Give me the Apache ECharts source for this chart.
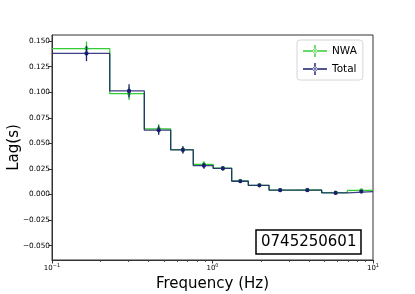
<!DOCTYPE html>
<html><head><meta charset="utf-8">
<script src="https://cdn.jsdelivr.net/npm/echarts@6/dist/echarts.min.js"></script>
<style>html,body{margin:0;padding:0;background:#fff}#c{width:415px;height:294px}</style>
</head><body><div id="c"></div>
<script>
const binEdges = [0.1, 0.229, 0.376, 0.549, 0.759, 1.01, 1.317, 1.671, 2.25, 3.02, 4.79, 6.92, 10];
const binCenters = [0.164, 0.302, 0.462, 0.654, 0.884, 1.16, 1.49, 1.96, 2.64, 3.90, 5.85, 8.46];
const nwaLag = [0.1426, 0.0987, 0.0642, 0.0440, 0.0295, 0.0258, 0.0134, 0.0090, 0.0044, 0.0045, 0.0018, 0.0040];
const nwaErr = [0.0070, 0.0062, 0.0045, 0.0035, 0.0030, 0.0020, 0.0015, 0.0012, 0.0012, 0.0012, 0.0012, 0.0015];
const totalLag = [0.1380, 0.1013, 0.0629, 0.0436, 0.0282, 0.0255, 0.0130, 0.0090, 0.0043, 0.0043, 0.0016, 0.0029];
const totalErr = [0.0075, 0.0065, 0.0045, 0.0035, 0.0030, 0.0020, 0.0015, 0.0012, 0.0012, 0.0012, 0.0012, 0.0015];
const yTicks = [-0.05, -0.025, 0, 0.025, 0.05, 0.075, 0.1, 0.125, 0.15];
const xMinorTicks = [0.2, 0.3, 0.4, 0.5, 0.6, 0.7, 0.8, 0.9, 2, 3, 4, 5, 6, 7, 8, 9];
const seriesNames = ['NWA', 'Total'];
const obsId = '0745250601';

const GREEN = '#32cd32';
const NAVY = '#1c1c72';
const seriesColors = [GREEN, NAVY];
const FONT = 'DejaVu Sans';

function stepData(vals) {
  const out = [];
  for (let i = 0; i < vals.length; i++) {
    out.push([binEdges[i], vals[i]]);
    out.push([binEdges[i + 1], vals[i]]);
  }
  return out;
}
function errData(vals, errs) {
  return vals.map((v, i) => [binCenters[i], v, errs[i]]);
}
function errRender(color) {
  return function (params, api) {
    const x = api.value(0), y = api.value(1), e = api.value(2);
    const p = api.coord([x, y]);
    const t = api.coord([x, y + e]);
    const b = api.coord([x, y - e]);
    return {
      type: 'group',
      children: [
        { type: 'line', shape: { x1: p[0], y1: t[1], x2: p[0], y2: b[1] }, style: { stroke: color, lineWidth: 1.3 } },
        { type: 'circle', shape: { cx: p[0], cy: p[1], r: 2.1 }, style: { fill: color } }
      ]
    };
  };
}
const legendIcon = 'path://M0,5.3h24v1.4h-24z M11.3,0h1.4v12h-1.4z M9.8,6a2.2,2.2 0 1,0 4.4,0a2.2,2.2 0 1,0 -4.4,0z';

const chart = echarts.init(document.getElementById('c'), null, { renderer: 'canvas' });
chart.setOption({
  animation: false,
  textStyle: { fontFamily: FONT },
  title: {
    text: obsId, left: 256, top: 230,
    padding: [4, 5, 4, 5], borderColor: '#000', borderWidth: 1.5,
    textStyle: { fontSize: 15, fontWeight: 'normal', color: '#000', fontFamily: FONT, lineHeight: 16 }
  },
  legend: {
    orient: 'vertical', left: 297, top: 40,
    padding: [5, 6, 5, 6], itemGap: 6, itemWidth: 24, itemHeight: 12,
    borderColor: '#d6d6d6', borderWidth: 1, borderRadius: 3,
    backgroundColor: 'rgba(255,255,255,0.85)',
    textStyle: { fontSize: 10.5, color: '#000', fontFamily: FONT },
    data: seriesNames.map((n, i) => ({ name: n, icon: legendIcon, itemStyle: { color: seriesColors[i], opacity: 1, borderWidth: 0 } }))
  },
  grid: { left: 52, right: 42, top: 35, bottom: 34, show: true, borderColor: '#333', borderWidth: 1,
          backgroundColor: 'transparent', containLabel: false, outerBoundsMode: 'none' },
  xAxis: [{
    type: 'log', logBase: 10, min: 0.1, max: 10,
    name: 'Frequency (Hz)', nameLocation: 'middle', nameGap: 17, nameMoveOverlap: false,
    nameTextStyle: { fontSize: 15, color: '#000', fontFamily: FONT },
    axisLine: { onZero: false, lineStyle: { color: '#333', width: 1 } },
    axisTick: { show: true, length: 3.5, lineStyle: { color: '#333' } },
    splitLine: { show: false },
    axisLabel: {
      margin: 3, color: '#000',
      formatter: function (v) {
        const e = Math.round(Math.log10(v));
        return '{b|10}{s|' + (e < 0 ? '\u2212' : '') + Math.abs(e) + '}';
      },
      rich: { b: { fontSize: 7, fontFamily: FONT, color: '#000' }, s: { fontSize: 5, fontFamily: FONT, color: '#000', padding: [0, 0, 5, 0] } }
    }
  }, {
    type: 'log', logBase: 10, min: 0.1, max: 10, position: 'bottom',
    axisLine: { show: false, onZero: false },
    axisLabel: { show: false },
    splitLine: { show: false },
    axisTick: { show: true, length: 2, customValues: xMinorTicks, lineStyle: { color: '#333', width: 0.8 } }
  }],
  yAxis: {
    type: 'value', min: -0.064, max: 0.156,
    name: 'Lag(s)', nameLocation: 'middle', nameGap: 30, nameMoveOverlap: false,
    nameTextStyle: { fontSize: 15, color: '#000', fontFamily: FONT },
    axisLine: { show: true, onZero: false, lineStyle: { color: '#333', width: 1 } },
    axisTick: { show: true, length: 3.5, customValues: yTicks, lineStyle: { color: '#333' } },
    splitLine: { show: false },
    axisLabel: {
      customValues: yTicks, margin: 2, color: '#000', fontSize: 7.3, fontFamily: FONT,
      formatter: v => v.toFixed(3).replace('-', '\u2212')
    }
  },
  series: [
    { name: 'NWA', type: 'line', data: stepData(nwaLag), showSymbol: false, symbol: 'none', color: GREEN,
      lineStyle: { color: GREEN, width: 1.3 }, itemStyle: { color: GREEN }, z: 2 },
    { name: 'Total', type: 'line', data: stepData(totalLag), showSymbol: false, symbol: 'none', color: NAVY,
      lineStyle: { color: NAVY, width: 1.3, opacity: 0.85 }, itemStyle: { color: NAVY }, z: 3 },
    { name: 'NWA', type: 'custom', data: errData(nwaLag, nwaErr), renderItem: errRender(GREEN), clip: true, z: 4 },
    { name: 'Total', type: 'custom', data: errData(totalLag, totalErr), renderItem: errRender(NAVY), clip: true, z: 5 }
  ]
});
</script>
</body></html>
